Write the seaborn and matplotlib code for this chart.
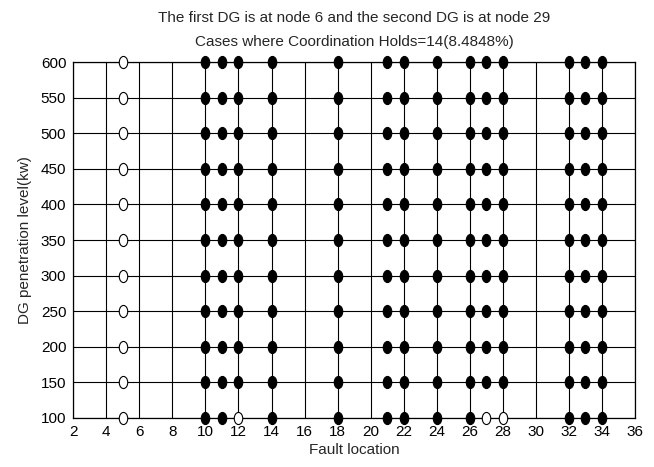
import numpy as np
import pandas as pd
import matplotlib
matplotlib.use("Agg")
import matplotlib.pyplot as plt
import seaborn as sns
from matplotlib.markers import MarkerStyle
from matplotlib.transforms import Affine2D

# data
fault_locations = [5, 10, 11, 12, 14, 18, 21, 22, 24, 26, 27, 28, 32, 33, 34]
penetration_levels = [100, 150, 200, 250, 300, 350, 400, 450, 500, 550, 600]
# cases where coordination fails (open markers)
open_always = [5]
open_at_100 = [12, 27, 28]

rows = []
for x in fault_locations:
    for y in penetration_levels:
        holds = not (x in open_always or (y == 100 and x in open_at_100))
        rows.append({"fault": x, "level": y, "holds": holds})
df = pd.DataFrame(rows)

sns.set_style("white")
plt.rcParams["font.family"] = ["Liberation Sans", "DejaVu Sans"]

fig, ax = plt.subplots(figsize=(6.54, 4.67), dpi=100)
fig.subplots_adjust(left=0.112, right=0.971, top=0.867, bottom=0.105)

ellipse = MarkerStyle("o", transform=Affine2D().scale(0.7, 1.0))

sns.scatterplot(data=df[df["holds"]], x="fault", y="level", ax=ax,
                marker=ellipse, s=76, color="black", edgecolor="black",
                linewidth=0.8, clip_on=False, zorder=3, legend=False)
sns.scatterplot(data=df[~df["holds"]], x="fault", y="level", ax=ax,
                marker=ellipse, s=76, color="white", edgecolor="black",
                linewidth=0.8, clip_on=False, zorder=3, legend=False)

ax.set_xlim(2, 36)
ax.set_ylim(100, 600)
ax.set_xticks(np.arange(2, 37, 2))
ax.set_yticks(penetration_levels)
ax.grid(True, color="black", linewidth=0.8)
ax.set_axisbelow(True)
for sp in ax.spines.values():
    sp.set_color("black")
    sp.set_linewidth(0.9)
ax.tick_params(direction="in", length=4, labelsize=11, colors="black", pad=5)

ax.set_xlabel("Fault location", fontsize=11, labelpad=3)
ax.set_ylabel("DG penetration level(kw)", fontsize=11, labelpad=6)
ax.text(0.5, 1.124, "The first DG is at node 6 and the second DG is at node 29",
        transform=ax.transAxes, ha="center", va="center", fontsize=11)
ax.text(0.5, 1.056, "Cases where Coordination Holds=14(8.4848%)",
        transform=ax.transAxes, ha="center", va="center", fontsize=11)

plt.savefig("out.png", dpi=100)
plt.close()
